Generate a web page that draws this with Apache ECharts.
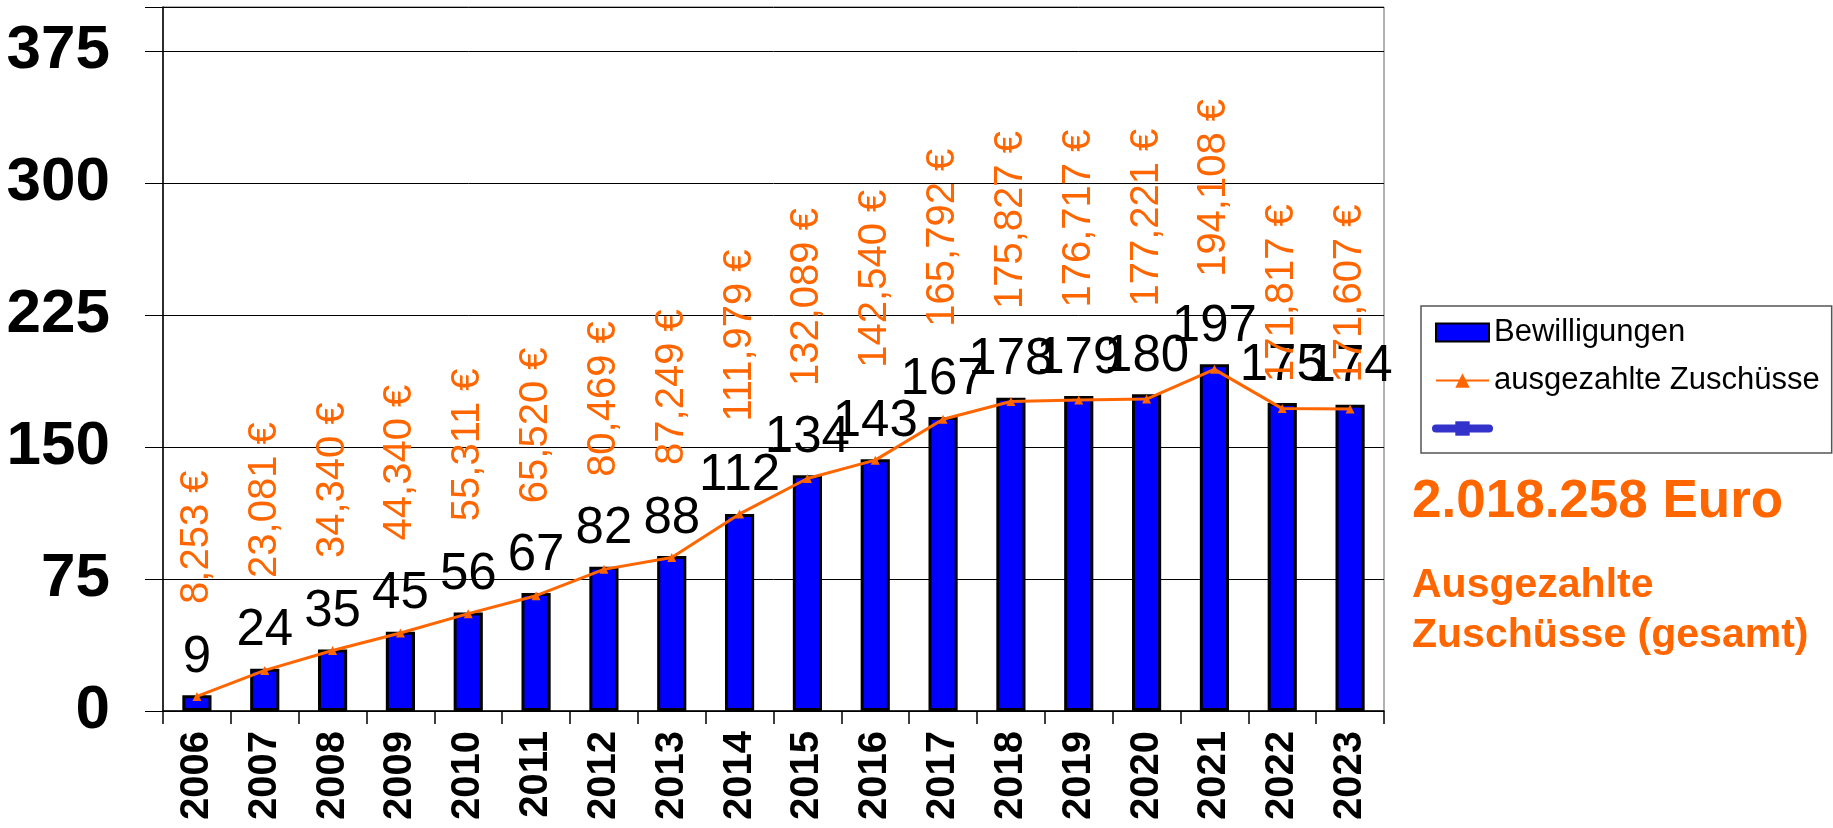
<!DOCTYPE html>
<html>
<head>
<meta charset="utf-8">
<script src="https://cdn.jsdelivr.net/npm/echarts@6/dist/echarts.min.js"></script>
<style>
  html, body { margin: 0; padding: 0; background: #fff; }
  #chart { width: 1833px; height: 828px; }
</style>
</head>
<body>
<div id="chart"></div>
<script>
const years = ['2006', '2007', '2008', '2009', '2010', '2011', '2012', '2013', '2014',
  '2015', '2016', '2017', '2018', '2019', '2020', '2021', '2022', '2023'];
const bewilligungen = [9, 24, 35, 45, 56, 67, 82, 88, 112, 134, 143, 167, 178, 179, 180, 197, 175, 174];
const zuschuesse = [8253, 23081, 34340, 44340, 55311, 65520, 80469, 87249, 111979, 132089,
  142540, 165792, 175827, 176717, 177221, 194108, 171817, 171607];
const yTicks = [0, 75, 150, 225, 300, 375];
const totalText = '2.018.258 Euro';
const noteLines = ['Ausgezahlte', 'Zuschüsse (gesamt)'];

const FONT = '"Liberation Sans", Arial, sans-serif';
const ORANGE = '#FF6600';

const chart = echarts.init(document.getElementById('chart'));

// labels of the last two points sit closer to the line
const lineData = zuschuesse.map((v, i) => ({
  value: v,
  label: { distance: i >= 16 ? 22 : 88 }
}));

const option = {
  animation: false,
  backgroundColor: '#fff',
  textStyle: { fontFamily: FONT },
  grid: {
    left: 163, right: 449, top: 7, bottom: 117,
    show: true, borderColor: '#666', borderWidth: 1
  },
  legend: {
    orient: 'vertical',
    left: 1421, top: 306,
    padding: [11, 12, 9, 11],
    itemGap: 17,
    itemWidth: 53, itemHeight: 18,
    borderColor: '#555', borderWidth: 1.5,
    textStyle: { fontFamily: FONT, fontSize: 31, color: '#000' },
    data: [
      { name: 'Bewilligungen', icon: 'rect' },
      { name: 'ausgezahlte Zuschüsse', itemStyle: { color: ORANGE } },
      { name: ' ', lineStyle: { width: 8, cap: 'round', color: '#3333CC' } }
    ]
  },
  xAxis: {
    type: 'category',
    data: years,
    boundaryGap: true,
    axisLine: { lineStyle: { color: '#000', width: 1.5 } },
    axisTick: { show: true, length: 13, lineStyle: { color: '#000', width: 1.5 } },
    axisLabel: {
      rotate: 90, margin: 20, interval: 0,
      fontFamily: FONT, fontSize: 40, fontWeight: 'bold', color: '#000'
    }
  },
  yAxis: [{
    type: 'value',
    min: 0, max: 400, interval: 75,
    axisLine: { show: true, lineStyle: { color: '#000', width: 1.5 } },
    axisTick: { show: true, length: 18, lineStyle: { color: '#000', width: 1 } },
    splitLine: { lineStyle: { color: '#000', width: 1 } },
    axisLabel: {
      margin: 53,
      fontFamily: FONT, fontSize: 62, fontWeight: 'bold', color: '#000',
      formatter: v => (yTicks.includes(v) ? String(v) : '')
    }
  }, {
    type: 'value',
    min: 0, max: 400000,
    show: false,
    splitLine: { show: false }
  }],
  series: [
    {
      name: 'Bewilligungen',
      type: 'bar',
      data: bewilligungen,
      barWidth: '43%',
      itemStyle: { color: '#0000FF', borderColor: '#000', borderWidth: 3 },
      label: {
        show: true, position: 'top', distance: 12,
        fontFamily: FONT, fontSize: 51, color: '#000'
      }
    },
    {
      name: 'ausgezahlte Zuschüsse',
      type: 'line',
      yAxisIndex: 1,
      data: lineData,
      color: ORANGE,
      lineStyle: { color: ORANGE, width: 3 },
      symbol: 'triangle', symbolSize: 9,
      itemStyle: { color: ORANGE },
      label: {
        show: true, position: 'top',
        rotate: 90, align: 'left', verticalAlign: 'middle',
        fontFamily: FONT, fontSize: 40, color: ORANGE,
        formatter: p => p.value.toLocaleString('en-US') + ' €'
      },
      z: 3
    },
    {
      name: ' ',
      type: 'line',
      data: [],
      color: '#3333CC',
      lineStyle: { color: '#3333CC', width: 8 },
      symbol: 'rect', symbolSize: 18,
      itemStyle: { color: '#3333CC' }
    }
  ],
  graphic: [
    {
      type: 'text', left: 1412, top: 476,
      style: { text: totalText, fill: ORANGE, font: 'bold 53px ' + FONT }
    },
    {
      type: 'text', left: 1412, top: 561,
      style: {
        text: noteLines.join('\n'), fill: ORANGE, font: 'bold 41px ' + FONT,
        lineHeight: 50
      }
    }
  ]
};

chart.setOption(option);
</script>
</body>
</html>
